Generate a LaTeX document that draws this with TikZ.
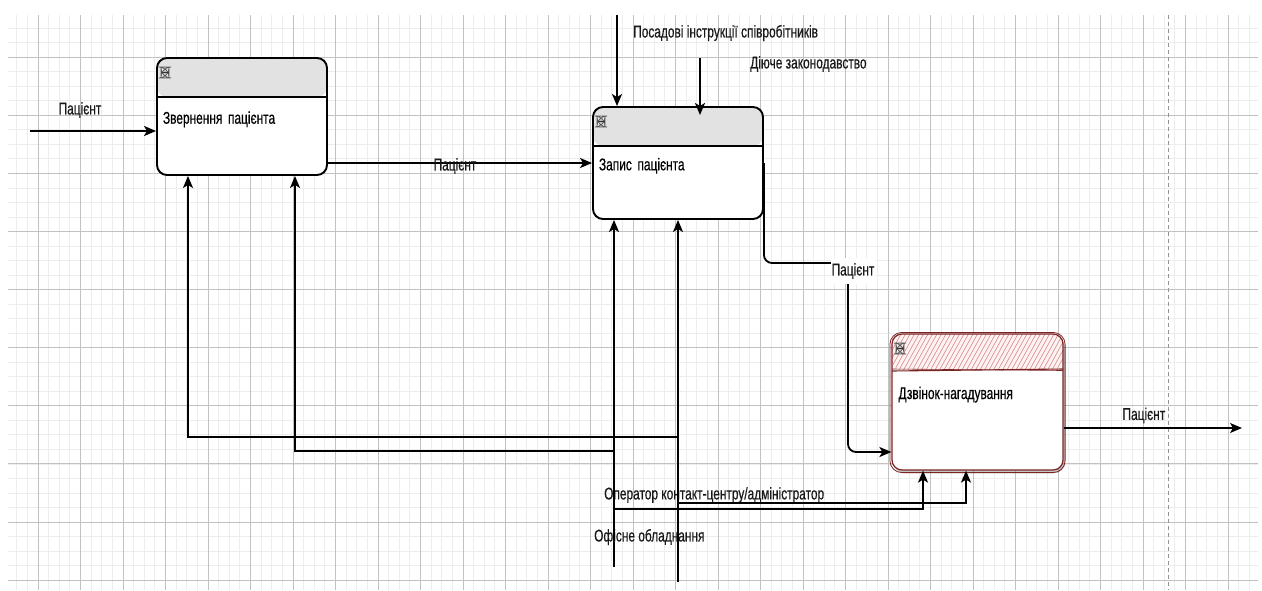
\documentclass[tikz,border=0pt]{standalone}
\usepackage{fontspec}
\setmainfont{Liberation Sans}[FakeStretch=0.70,FakeBold=0.4]
\usetikzlibrary{arrows.meta,shadows}
\definecolor{hdr}{HTML}{E2E2E2}
\definecolor{dkred}{HTML}{7A2424}
\definecolor{hatch}{HTML}{D48888}
\definecolor{gmaj}{HTML}{C2C2C2}
\definecolor{gmin}{HTML}{EDEDED}

\begin{document}
\begin{tikzpicture}[x=1pt,y=-1pt,font=\fontsize{17}{19}\selectfont,>={Stealth[length=12pt,width=10pt,inset=3pt]},
  box/.style={draw,fill=white,line width=1.9pt,rounded corners=10pt,minimum width=170pt,text width=158pt,inner sep=6pt,align=left,text height=18pt},
  head/.style={path picture={
    \fill[hdr] (path picture bounding box.north west) rectangle ([yshift=-39pt]path picture bounding box.north east);
    \draw[line width=1.2pt] ([yshift=-39pt]path picture bounding box.north west) -- ++(175,0);
    \filldraw[fill=gray!50,draw=black!65,line width=0.7pt] ([shift={(4pt,-9pt)}]path picture bounding box.north west) rectangle ++(8,11);
    \draw[black!80,line width=1.8pt] ([shift={(4.5pt,-14.5pt)}]path picture bounding box.north west) -- ++(7,0);}},
  hatched/.style={path picture={
    \fill[red!5] (path picture bounding box.north west) rectangle ([yshift=-36pt]path picture bounding box.north east);
    \begin{scope}
    \clip (path picture bounding box.north west) rectangle ([yshift=-36pt]path picture bounding box.north east);
    \foreach \k in {0,...,45} \draw[hatch,line width=0.6pt] ([xshift=\k*4.5pt-20pt,yshift=-36pt]path picture bounding box.north west) -- ++(20,-36);
    \end{scope}
    \draw[dkred,line width=1.1pt] ([yshift=-37pt]path picture bounding box.north west) -- ([yshift=-35pt]path picture bounding box.north east);
    \draw[dkred,line width=0.6pt] ([yshift=-35pt]path picture bounding box.north west) -- ([yshift=-36.5pt]path picture bounding box.north east);
    \filldraw[fill=gray!50,draw=black!65,line width=0.7pt] ([shift={(4pt,-9pt)}]path picture bounding box.north west) rectangle ++(8,11);
    \draw[black!80,line width=1.8pt] ([shift={(4.5pt,-14.5pt)}]path picture bounding box.north west) -- ++(7,0);}},
  flow/.style={->,line width=1.8pt},
  lbl/.style={inner sep=1pt,text=black!90}]
\fill[white] (0,0) rectangle (1262,590);
\useasboundingbox (0,0) rectangle (1262,590);
\begin{scope}
\clip (8,15) rectangle (1258,590);
\foreach \k in {-3,...,114} \draw[gmin,line width=0.8pt] ({38+10.625*\k},15) -- ++(0,575);
\foreach \k in {-3,...,36} \draw[gmin,line width=0.8pt] (8,{57.2+14.525*\k}) -- ++(1250,0);
\foreach \k in {0,...,28} \draw[gmaj,line width=1pt] ({38+42.5*\k},15) -- ++(0,575);
\foreach \k in {0,...,9} \draw[gmaj,line width=1pt] (8,{57.2+58.1*\k}) -- ++(1250,0);
\end{scope}
\draw[gray!85,line width=1pt,dash pattern=on 4pt off 3pt] (1168,15) -- (1168,590);

\node[box,head,minimum height=117pt] (zv) at (242,116.5) {Звернення пацієнта};
\node[box,head,minimum height=112pt] (zp) at (678,163) {Запис пацієнта};
\node[box,hatched,draw=dkred,line width=1.2pt,minimum width=171pt,minimum height=136pt,text height=12pt,text depth=18pt,
  drop shadow={shadow xshift=2pt,shadow yshift=-3pt,opacity=.45}] (dz) at (977.5,402) {Дзвінок-нагадування};
\draw[dkred,line width=0.8pt,rounded corners=12pt] ([shift={(-1.5pt,1pt)}]dz.north west) rectangle ([shift={(1.5pt,-2pt)}]dz.south east);

\coordinate (in) at (30,131);
\draw[flow,line width=2.2pt] (in) -- (in -| zv.west);
\node[lbl] (p1) at (80,110) {Пацієнт};
\draw[flow] (zv.east |- zp.west) -- (zp.west) node[lbl,midway,xshift=-5pt,yshift=-3pt] (p2) {Пацієнт};
\draw[flow,rounded corners=8pt] (zp.east) -- (zp.east |- 0,263) -- (848,263) -- (848,452) -- (dz.west |- 0,452);
\node[lbl,fill=white,minimum height=26pt] (p3) at (853,271) {Пацієнт};
\coordinate (out) at (1242,428);
\draw[flow,line width=1.4pt] (dz.east |- out) -- (out) node[lbl,pos=0.45,above=3pt] (p4) {Пацієнт};

\coordinate (c1) at (617,15);
\coordinate (c2) at (700,58);
\coordinate (c2e) at (700,115);
\draw[flow] (c1) -- (c1 |- zp.north);
\draw[flow] (c2) -- (c2e);
\node[lbl,anchor=west] (ctl1) at (632,33) {Посадові інструкції співробітників};
\node[lbl,anchor=west] (ctl2) at (749,64) {Діюче законодавство};

\node[lbl,anchor=west] (mech1) at (603,495) {Оператор контакт-центру/адміністратор};
\node[lbl,anchor=west] (mech2) at (593,537) {Офісне обладнання};
\coordinate (m1) at (614,567);
\coordinate (m2) at (678,582);
\draw[flow] (m1) -- (m1 |- zp.south);
\draw[flow] (m2) -- (m2 |- zp.south);
\draw[flow] (m1 |- 0,451) -| ([xshift=53pt]zv.south);
\draw[flow] (m2 |- 0,437) -| ([xshift=-54pt]zv.south);
\draw[flow] (m1 |- 0,509) -| ([xshift=-54.5pt]dz.south);
\draw[flow] (m2 |- 0,503) -| ([xshift=-11.5pt]dz.south);
\end{tikzpicture}
\end{document}
